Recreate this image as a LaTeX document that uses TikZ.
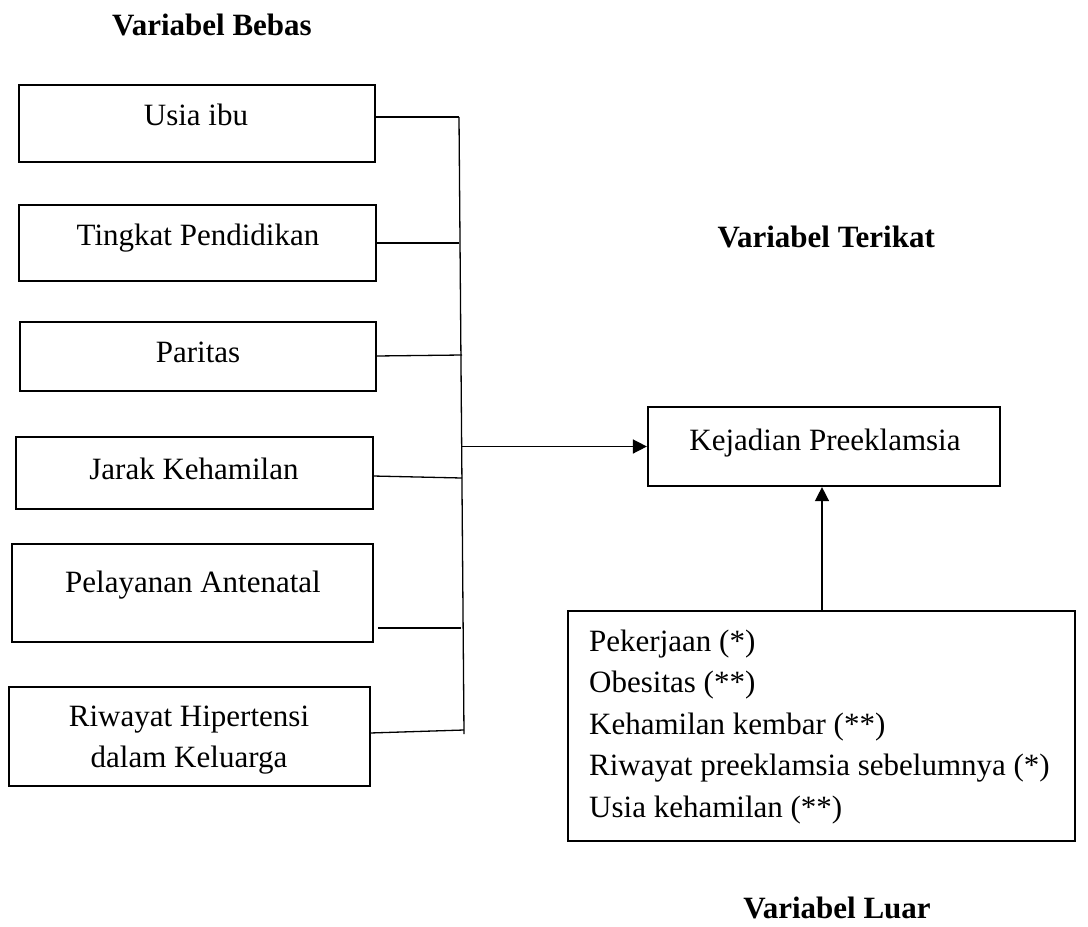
\documentclass[tikz,border=0pt]{standalone}
\usepackage{fontspec}
\setmainfont{Liberation Serif}
\usetikzlibrary{arrows.meta}
\tikzset{
  lbox/.style={draw, line width=2.6pt, inner sep=0pt},
  rbox/.style={draw, line width=2.2pt, inner sep=0pt},
  conn/.style={line width=1.3pt},
  arr/.style={line width=1.5pt, -{Triangle[length=14pt,width=14pt]}},
  txt/.style={anchor=base, inner sep=0pt, font=\fontsize{31}{41.5}\selectfont},
  ltxt/.style={anchor=base west, inner sep=0pt, font=\fontsize{31}{41.5}\selectfont},
  ttl/.style={anchor=base, inner sep=0pt, font=\fontsize{31}{38}\selectfont\bfseries}
}
\begin{document}
\begin{tikzpicture}[x=1pt,y=-1pt]
\useasboundingbox (0,0) rectangle (1088,927);
% titles
\node[ttl] (t1) at (212,35) {Variabel Bebas};
\node[ttl,anchor=base east] (t2) at (935,247) {Variabel Terikat};
\node[ttl] (t3) at (837,918) {Variabel Luar};
% left boxes
\node[lbox, minimum width=356pt, minimum height=77pt] (b1) at (197,123.5) {};
\node[lbox, minimum width=357pt, minimum height=76pt] (b2) at (197.5,243) {};
\node[lbox, minimum width=356pt, minimum height=69pt] (b3) at (198,356.5) {};
\node[lbox, minimum width=357pt, minimum height=72pt] (b4) at (194.5,473) {};
\node[lbox, minimum width=361pt, minimum height=98pt] (b5) at (192.5,593) {};
\node[lbox, minimum width=361pt, minimum height=99pt] (b6) at (189.5,736.5) {};
\node[txt] (x1) at (196,125) {Usia ibu};
\node[txt] (x2) at (198,245) {Tingkat Pendidikan};
\node[txt] (x3) at (198,362) {Paritas};
\node[txt] (x4) at (194,479) {Jarak Kehamilan};
\node[txt] (x5) at (193,592) {Pelayanan Antenatal};
\node[txt] (x6a) at (189,726) {Riwayat Hipertensi};
\node[txt] (x6b) at (189,767) {dalam Keluarga};
% spine
\coordinate (s1) at (459,117);
\coordinate (s2) at (459,243);
\coordinate (s3) at (462,355);
\coordinate (s4) at (462,478);
\coordinate (s5) at (461,628);
\coordinate (s6) at (464,730);
\coordinate (s0) at (459,117);
\coordinate (s7) at (464,734);
\coordinate (sa) at (461,446.5);
\coordinate (p1) at (375,117);
\coordinate (p2) at (375,243);
\coordinate (p3) at (376,356);
\coordinate (p4) at (373,476);
\coordinate (p5) at (378,628);
\coordinate (p6) at (370,733);
\draw[conn] (s0) -- (s7);
\draw[conn] (p1) -- (s1);
\draw[conn] (p2) -- (s2);
\draw[conn] (p3) -- (s3);
\draw[conn] (p4) -- (s4);
\draw[conn] (p5) -- (s5);
\draw[conn] (p6) -- (s6);
% dependent
\node[rbox, minimum width=352pt, minimum height=79pt] (kp) at (824,446.5) {};
\node[txt] (kt) at (825,450) {Kejadian Preeklamsia};
\draw[arr] (sa) -- (kp.west);
% external
\node[rbox, minimum width=507pt, minimum height=230pt] (bl) at (821.5,726) {};
\node[ltxt] (l1) at (589,651) {Pekerjaan (*)};
\node[ltxt] (l2) at (589,692) {Obesitas (**)};
\node[ltxt] (l3) at (589,734) {Kehamilan kembar (**)};
\node[ltxt] (l4) at (589,775) {Riwayat preeklamsia sebelumnya (*)};
\node[ltxt] (l5) at (589,817) {Usia kehamilan (**)};
\draw[arr] (bl.north -| 822,0) -- (kp.south -| 822,0);
\end{tikzpicture}
\end{document}
